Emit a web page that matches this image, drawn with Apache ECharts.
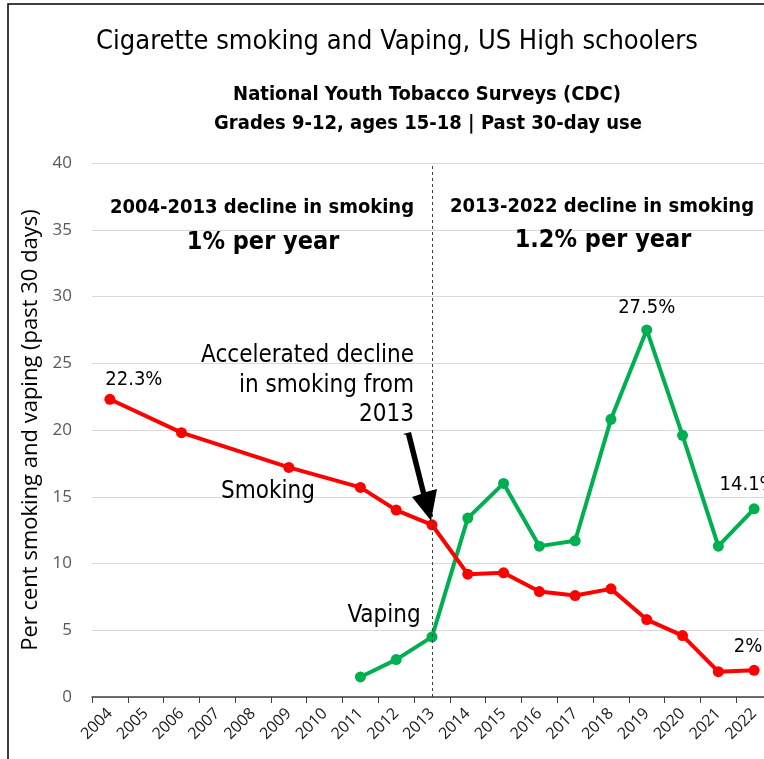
<!DOCTYPE html>
<html>
<head>
<meta charset="utf-8">
<script src="https://cdn.jsdelivr.net/npm/echarts@6/dist/echarts.min.js"></script>
<style>
html,body{margin:0;padding:0;background:#fff;}
#chart{width:764px;height:759px;}
</style>
</head>
<body>
<div id="chart"></div>
<script>
var years = ['2004','2005','2006','2007','2008','2009','2010','2011','2012','2013','2014','2015','2016','2017','2018','2019','2020','2021','2022'];
var smoking = [22.3, null, 19.8, null, null, 17.2, null, 15.7, 14.0, 12.9, 9.2, 9.3, 7.9, 7.6, 8.1, 5.8, 4.6, 1.9, 2.0];
var vaping = [null, null, null, null, null, null, null, 1.5, 2.8, 4.5, 13.4, 16.0, 11.3, 11.7, 20.8, 27.5, 19.6, 11.3, 14.1];
var yTicks = [0, 5, 10, 15, 20, 25, 30, 35, 40];

var COND = '"DejaVu Sans Condensed", "DejaVu Sans", sans-serif';
var SANS = '"Open Sans", "Liberation Sans", sans-serif';
var RED = '#ff0000', GREEN = '#00b050';

function lab(text, offset, dist) {
  return {show: true, position: 'top', distance: dist, offset: offset,
    formatter: text, fontFamily: COND, fontSize: 20, color: '#000'};
}

var smokingData = smoking.slice();
smokingData[0] = {value: smoking[0], label: lab('22.3%', [24, 0], 4)};
smokingData[18] = {value: smoking[18], label: lab('2%', [-6, 0], 8)};
var vapingData = vaping.slice();
vapingData[15] = {value: vaping[15], label: lab('27.5%', [0, 0], 7)};
vapingData[18] = {value: vaping[18], label: lab('14.1%', [-6, 0], 8)};

var chart = echarts.init(document.getElementById('chart'));
var option = {
  animation: false,
  backgroundColor: '#fff',
  grid: {left: 92, top: 163, right: -8, bottom: 62, containLabel: false, outerBoundsMode: 'none'},
  xAxis: {
    type: 'category', data: years, boundaryGap: true,
    axisLine: {lineStyle: {color: '#404040', width: 1.5}},
    axisTick: {show: true, length: 6, lineStyle: {color: '#404040'}},
    axisLabel: {rotate: 45, fontFamily: SANS, fontSize: 16, color: '#1a1a1a', margin: 14, interval: 0},
    splitLine: {show: false}
  },
  yAxis: {
    type: 'value', min: 0, max: 40, interval: 5,
    name: 'Per cent smoking and vaping (past 30 days)',
    nameLocation: 'middle', nameGap: 47, nameRotate: 90,
    nameTextStyle: {fontFamily: SANS, fontSize: 22, color: '#000'},
    axisLine: {show: false}, axisTick: {show: false},
    axisLabel: {fontFamily: SANS, fontSize: 17, color: '#595959', margin: 20},
    splitLine: {lineStyle: {color: '#d9d9d9', width: 1.2}}
  },
  series: [
    {
      name: 'Smoking', type: 'line', data: smokingData,
      connectNulls: true, symbol: 'circle', symbolSize: 11,
      lineStyle: {color: RED, width: 4}, itemStyle: {color: RED},
      z: 3,
      markLine: {
        silent: true, symbol: 'none', label: {show: false},
        lineStyle: {color: '#404040', type: [3, 3], width: 1},
        data: [{xAxis: '2013'}]
      }
    },
    {
      name: 'Vaping', type: 'line', data: vapingData,
      connectNulls: true, symbol: 'circle', symbolSize: 11,
      lineStyle: {color: GREEN, width: 4}, itemStyle: {color: GREEN},
      z: 2
    }
  ]
};
chart.setOption(option);

function txt(x, y, s, size, weight, align) {
  return {type: 'text', x: x, y: y, z: 10, style: {text: s, fontFamily: COND, fontSize: size, fontWeight: weight || 'normal', fill: '#000', align: align || 'center', verticalAlign: 'middle'}};
}
var p13 = chart.convertToPixel({xAxisIndex: 0, yAxisIndex: 0}, ['2013', smoking[9]]);
var tipX = p13[0] - 1, tipY = p13[1] - 4;
var graphics = [
  {type: 'rect', shape: {x: 8, y: 4, width: 800, height: 800}, style: {fill: 'none', stroke: '#000', lineWidth: 1.5}, z: 0, silent: true},
  txt(397, 42, 'Cigarette smoking and Vaping, US High schoolers', 27),
  txt(427, 95, 'National Youth Tobacco Surveys (CDC)', 20, 'bold'),
  txt(428, 124, 'Grades 9-12, ages 15-18 | Past 30-day use', 20, 'bold'),
  txt(262, 208, '2004-2013 decline in smoking', 20, 'bold'),
  txt(263, 242, '1% per year', 25, 'bold'),
  txt(602, 207, '2013-2022 decline in smoking', 20, 'bold'),
  txt(603, 240, '1.2% per year', 25, 'bold'),
  txt(414, 356, 'Accelerated decline', 24, 'normal', 'right'),
  txt(414, 386, 'in smoking from', 24, 'normal', 'right'),
  txt(414, 415, '2013', 24, 'normal', 'right'),
  txt(268, 492, 'Smoking', 24, 'normal'),
  txt(384, 616, 'Vaping', 24, 'normal'),
  {type: 'polygon', z: 10, shape: {points: [
    [403, 434], [411, 432], [426, 492], [437, 489], [tipX, tipY], [412, 497], [421, 494], [406, 435]
  ]}, style: {fill: '#000'}}
];
chart.setOption({graphic: graphics});
</script>
</body>
</html>
